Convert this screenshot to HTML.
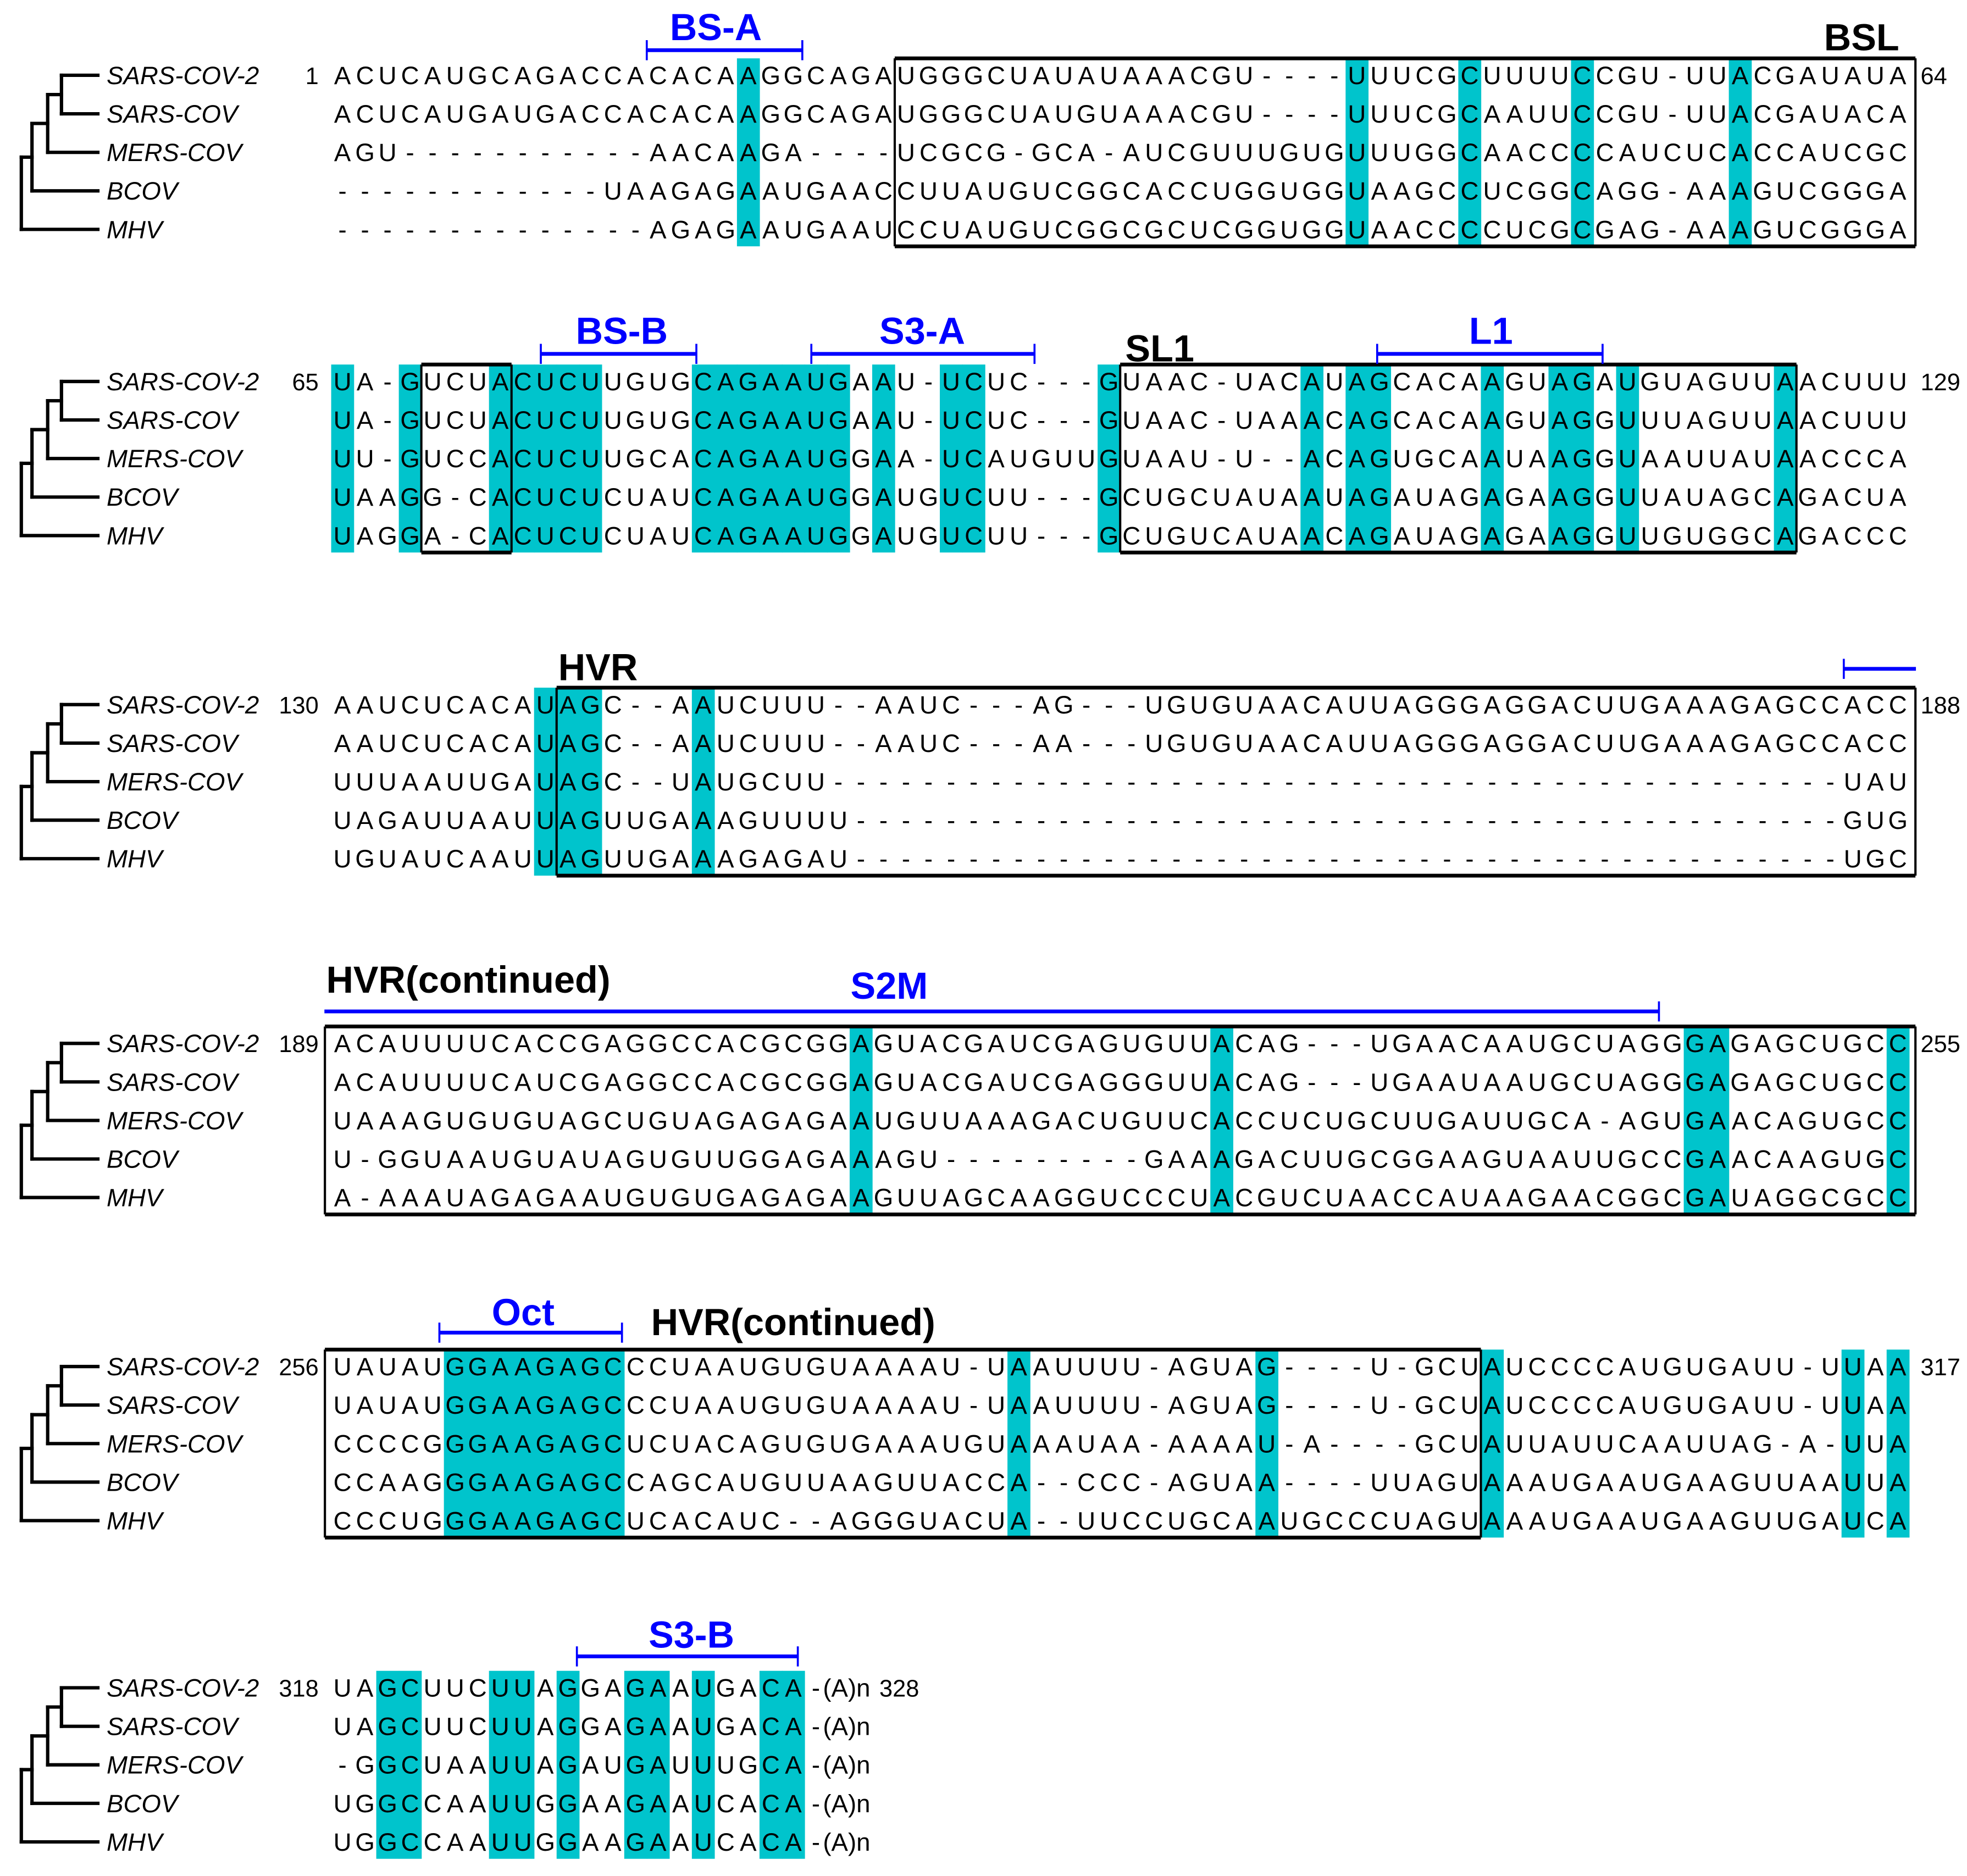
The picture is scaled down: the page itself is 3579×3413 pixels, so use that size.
<!DOCTYPE html>
<html>
<head>
<meta charset="utf-8">
<style>
html,body{margin:0;padding:0;background:#fff;}
svg{display:block;}
.seq{font-family:"Liberation Sans",sans-serif;font-size:20px;fill:#000;}
.sp{font-family:"Liberation Sans",sans-serif;font-size:20px;font-style:italic;fill:#000;}
.num{font-family:"Liberation Sans",sans-serif;font-size:19px;fill:#000;}
.ann{font-family:"Liberation Sans",sans-serif;font-size:30px;font-weight:bold;}
</style>
</head>
<body>
<svg id="fig" xmlns="http://www.w3.org/2000/svg" width="3579" height="3413" viewBox="0 0 1568 1495" preserveAspectRatio="none">
  <g id="annots">
    <text class="ann" x="534" y="32" fill="#0000ff">BS-A</text>
    <text class="ann" x="1454" y="40" fill="#000">BSL</text>
    <text class="ann" x="459" y="274" fill="#0000ff">BS-B</text>
    <text class="ann" x="701" y="274" fill="#0000ff">S3-A</text>
    <text class="ann" x="897" y="288" fill="#000">SL1</text>
    <text class="ann" x="1171" y="274" fill="#0000ff">L1</text>
    <text class="ann" x="445" y="542" fill="#000">HVR</text>
    <text class="ann" x="260" y="791" fill="#000">HVR(continued)</text>
    <text class="ann" x="678" y="796" fill="#0000ff">S2M</text>
    <text class="ann" x="392" y="1056" fill="#0000ff">Oct</text>
    <text class="ann" x="519" y="1064" fill="#000">HVR(continued)</text>
    <text class="ann" x="517" y="1313" fill="#0000ff">S3-B</text>
  </g>
</svg>
<script>
// ---- data ----
const species = ["SARS-COV-2","SARS-COV","MERS-COV","BCOV","MHV"];
const blockRowY = [60, 304, 561.5, 831.5, 1089, 1345];
const startNums = ["1","65","130","189","256","318"];
const endNums = ["64","129","188","255","317","328"];
const seqs1 = [
"ACUCAUGCAGACCACACAAGGCAGAUGGGCUAUAUAAACGU----UUUCGCUUUUCCGU-UUACGAUAUA",
"ACUCAUGAUGACCACACAAGGCAGAUGGGCUAUGUAAACGU----UUUCGCAAUUCCGU-UUACGAUACA",
"AGU-----------AACAAGA----UCGCG-GCA-AUCGUUUGUGUUUGGCAACCCCAUCUCACCAUCGC",
"------------UAAGAGAAUGAACCUUAUGUCGGCACCUGGUGGUAAGCCUCGGCAGG-AAAGUCGGGA",
"--------------AGAGAAUGAAUCCUAUGUCGGCGCUCGGUGGUAACCCCUCGCGAG-AAAGUCGGGA"];
const seqs2 = [
"UA-GUCUACUCUUGUGCAGAAUGAAU-UCUC---GUAAC-UACAUAGCACAAGUAGAUGUAGUUAACUUU",
"UA-GUCUACUCUUGUGCAGAAUGAAU-UCUC---GUAAC-UAAACAGCACAAGUAGGUUUAGUUAACUUU",
"UU-GUCCACUCUUGCACAGAAUGGAA-UCAUGUUGUAAU-U--ACAGUGCAAUAAGGUAAUUAUAACCCA",
"UAAGG-CACUCUCUAUCAGAAUGGAUGUCUU---GCUGCUAUAAUAGAUAGAGAAGGUUAUAGCAGACUA",
"UAGGA-CACUCUCUAUCAGAAUGGAUGUCUU---GCUGUCAUAACAGAUAGAGAAGGUUGUGGCAGACCC"];
const seqs3 = [
"AAUCUCACAUAGC--AAUCUUU--AAUC---AG---UGUGUAACAUUAGGGAGGACUUGAAAGAGCCACC",
"AAUCUCACAUAGC--AAUCUUU--AAUC---AA---UGUGUAACAUUAGGGAGGACUUGAAAGAGCCACC",
"UUUAAUUGAUAGC--UAUGCUU---------------------------------------------UAU",
"UAGAUUAAUUAGUUGAAAGUUUU--------------------------------------------GUG",
"UGUAUCAAUUAGUUGAAAGAGAU--------------------------------------------UGC"];
const seqs4 = [
"ACAUUUUCACCGAGGCCACGCGGAGUACGAUCGAGUGUUACAG---UGAACAAUGCUAGGGAGAGCUGCC",
"ACAUUUUCAUCGAGGCCACGCGGAGUACGAUCGAGGGUUACAG---UGAAUAAUGCUAGGGAGAGCUGCC",
"UAAAGUGUGUAGCUGUAGAGAGAAUGUUAAAGACUGUUCACCUCUGCUUGAUUGCA-AGUGAACAGUGCC",
"U-GGUAAUGUAUAGUGUUGGAGAAAGU---------GAAAGACUUGCGGAAGUAAUUGCCGAACAAGUGC",
"A-AAAUAGAGAAUGUGUGAGAGAAGUUAGCAAGGUCCCUACGUCUAACCAUAAGAACGGCGAUAGGCGCC"];
const seqs5 = [
"UAUAUGGAAGAGCCCUAAUGUGUAAAAU-UAAUUUU-AGUAG----U-GCUAUCCCCAUGUGAUU-UUAA",
"UAUAUGGAAGAGCCCUAAUGUGUAAAAU-UAAUUUU-AGUAG----U-GCUAUCCCCAUGUGAUU-UUAA",
"CCCCGGGAAGAGCUCUACAGUGUGAAAUGUAAAUAA-AAAAU-A----GCUAUUAUUCAAUUAG-A-UUA",
"CCAAGGGAAGAGCCAGCAUGUUAAGUUACCA--CCC-AGUAA----UUAGUAAAUGAAUGAAGUUAAUUA",
"CCCUGGGAAGAGCUCACAUC--AGGGUACUA--UUCCUGCAAUGCCCUAGUAAAUGAAUGAAGUUGAUCA"];
const seqs6 = [
"UAGCUUCUUAGGAGAAUGACA-",
"UAGCUUCUUAGGAGAAUGACA-",
"-GGCUAAUUAGAUGAUUUGCA-",
"UGGCCAAUUGGAAGAAUCACA-",
"UGGCCAAUUGGAAGAAUCACA-"];
const hl1 = [18,45,50,55,62];
const hl2 = [0,3,7,8,9,10,11,16,17,18,19,20,21,22,24,27,28,34,43,45,46,51,54,55,57,64];
const hl3 = [9,10,11,16];
const hl4 = [23,39,60,61,69];
const hl5 = [5,6,7,8,9,10,11,12,30,41,51,67,69];
const hl6 = [2,3,7,8,10,13,14,16,19,20];
const boxes1 = [[25,70]];
const boxes2 = [[4,8],[35,65]];
const boxes3 = [[10,70]];
const boxes4 = [[0,70]];
const boxes5 = [[0,51]];
const boxes6 = [];
const barCols1 = [[14.0,20.9]];
const barCols2 = [[9.3,16.2],[21.3,31.2],[46.4,56.4]];
const barCols3 = [[67.1,70.3]];
const barCols4 = [[-0.3,58.9]];
const barCols5 = [[4.8,12.9]];
const barCols6 = [[10.9,20.7]];
const barY = [40, 282, 533, 806, 1062, 1320];
const barNames = [["bs-a-bar"],["bs-b-bar","s3-a-bar","l1-bar"],["s2m-start-bar"],["s2m-bar"],["oct-bar"],["s3-b-bar"]];
const barTickL = [[true],[true,true,true],[true],[false],[true],[true]];

const allSeqs = [seqs1,seqs2,seqs3,seqs4,seqs5,seqs6];
const allHl = [hl1,hl2,hl3,hl4,hl5,hl6];
const allBoxes = [boxes1,boxes2,boxes3,boxes4,boxes5,boxes6];
const allBars = [barCols1,barCols2,barCols3,barCols4,barCols5,barCols6];

// ---- layout ----
const NS = "http://www.w3.org/2000/svg";
const X0 = 264, COLW = 17.97, ROWH = 30.7;
const svg = document.getElementById("fig");
const annots = document.getElementById("annots");
function colX(c){ return X0 + c*COLW; }
function rowY(b,r){ return blockRowY[b] + r*ROWH; }
function mk(tag, attrs, parent){
  const e = document.createElementNS(NS, tag);
  for (const k in attrs) e.setAttribute(k, attrs[k]);
  parent.appendChild(e);
  return e;
}
for (let b=0; b<6; b++){
  const g = mk("g", {}, svg);
  
  
  const top = rowY(b,0) - 13.5, bot = rowY(b,4) + 13.5;
  allHl[b].forEach(c => {
    const r = mk("rect", {x: colX(c), y: top, width: COLW+0.3, height: bot-top, fill: "#00c4cc"}, g);
    
    
  });
  allSeqs[b].forEach((s, r) => {
    const t = mk("g", {}, g);
    
    
    for (let i=0; i<s.length; i++){
      const ch = mk("text", {x: colX(i)+COLW/2, y: rowY(b,r)+7, "text-anchor": "middle", class: "seq"}, t);
      ch.textContent = s[i];
    }
    const lab = mk("text", {x: 85, y: rowY(b,r)+7, class: "sp"}, g);
    
    
    lab.textContent = species[r];
  });
  allBoxes[b].forEach(bx => {
    let x1 = colX(bx[0]), x2 = colX(bx[1]);
    if (bx[0] === 0) x1 -= 5;
    if (bx[1] === 70) x2 += 5;
    const bg = mk("g", {stroke: "#000", fill: "none"}, g);
    
    
    mk("line", {x1: x1, y1: top, x2: x2, y2: top, "stroke-width": 3}, bg);
    mk("line", {x1: x1, y1: bot, x2: x2, y2: bot, "stroke-width": 3}, bg);
    mk("line", {x1: x1, y1: top, x2: x1, y2: bot, "stroke-width": 1.8}, bg);
    mk("line", {x1: x2, y1: top, x2: x2, y2: bot, "stroke-width": 1.8}, bg);
  });
  const sn = mk("text", {x: 254, y: rowY(b,0)+7, "text-anchor": "end", class: "num"}, g);
  
  
  sn.textContent = startNums[b];
  if (b === 5){
    for (let r=0; r<5; r++){
      const an = mk("text", {x: 656, y: rowY(b,r)+7, class: "seq"}, g);
      
      
      an.textContent = "(A)n";
    }
    const en = mk("text", {x: 701, y: rowY(b,0)+7, class: "num"}, g);
    
    
    en.textContent = endNums[b];
  } else {
    const en = mk("text", {x: 1531, y: rowY(b,0)+7, class: "num"}, g);
    
    
    en.textContent = endNums[b];
  }
  const tg = mk("g", {stroke: "#000", "stroke-width": 2.7, fill: "none", "stroke-linecap": "square"}, g);
  
  
  const ys = [0,1,2,3,4].map(r => rowY(b,r));
  const nx = [49, 38, 25.5, 17];
  const n1 = (ys[0]+ys[1])/2, n2 = (n1+ys[2])/2, n3 = (n2+ys[3])/2;
  const tipX = 78;
  [[nx[0],ys[0]],[nx[0],ys[1]],[nx[1],ys[2]],[nx[2],ys[3]],[nx[3],ys[4]]].forEach(p => {
    mk("line", {x1: p[0], y1: p[1], x2: tipX, y2: p[1]}, tg);
  });
  mk("line", {x1: nx[0], y1: ys[0], x2: nx[0], y2: ys[1]}, tg);
  mk("line", {x1: nx[1], y1: n1, x2: nx[0], y2: n1}, tg);
  mk("line", {x1: nx[1], y1: n1, x2: nx[1], y2: ys[2]}, tg);
  mk("line", {x1: nx[2], y1: n2, x2: nx[1], y2: n2}, tg);
  mk("line", {x1: nx[2], y1: n2, x2: nx[2], y2: ys[3]}, tg);
  mk("line", {x1: nx[3], y1: n3, x2: nx[2], y2: n3}, tg);
  mk("line", {x1: nx[3], y1: n3, x2: nx[3], y2: ys[4]}, tg);
  allBars[b].forEach((bc, i) => {
    const bgp = mk("g", {stroke: "#0000ff", fill: "none"}, g);
    
    
    const x1 = colX(bc[0]), x2 = colX(bc[1]), y = barY[b];
    mk("line", {x1: x1, y1: y, x2: x2, y2: y, "stroke-width": 3}, bgp);
    if (barTickL[b][i]) mk("line", {x1: x1, y1: y-8, x2: x1, y2: y+8, "stroke-width": 1.6}, bgp);
    if (!(b === 2)) mk("line", {x1: x2, y1: y-8, x2: x2, y2: y+8, "stroke-width": 1.6}, bgp);
  });
}
svg.appendChild(annots);
</script>
</body>
</html>
